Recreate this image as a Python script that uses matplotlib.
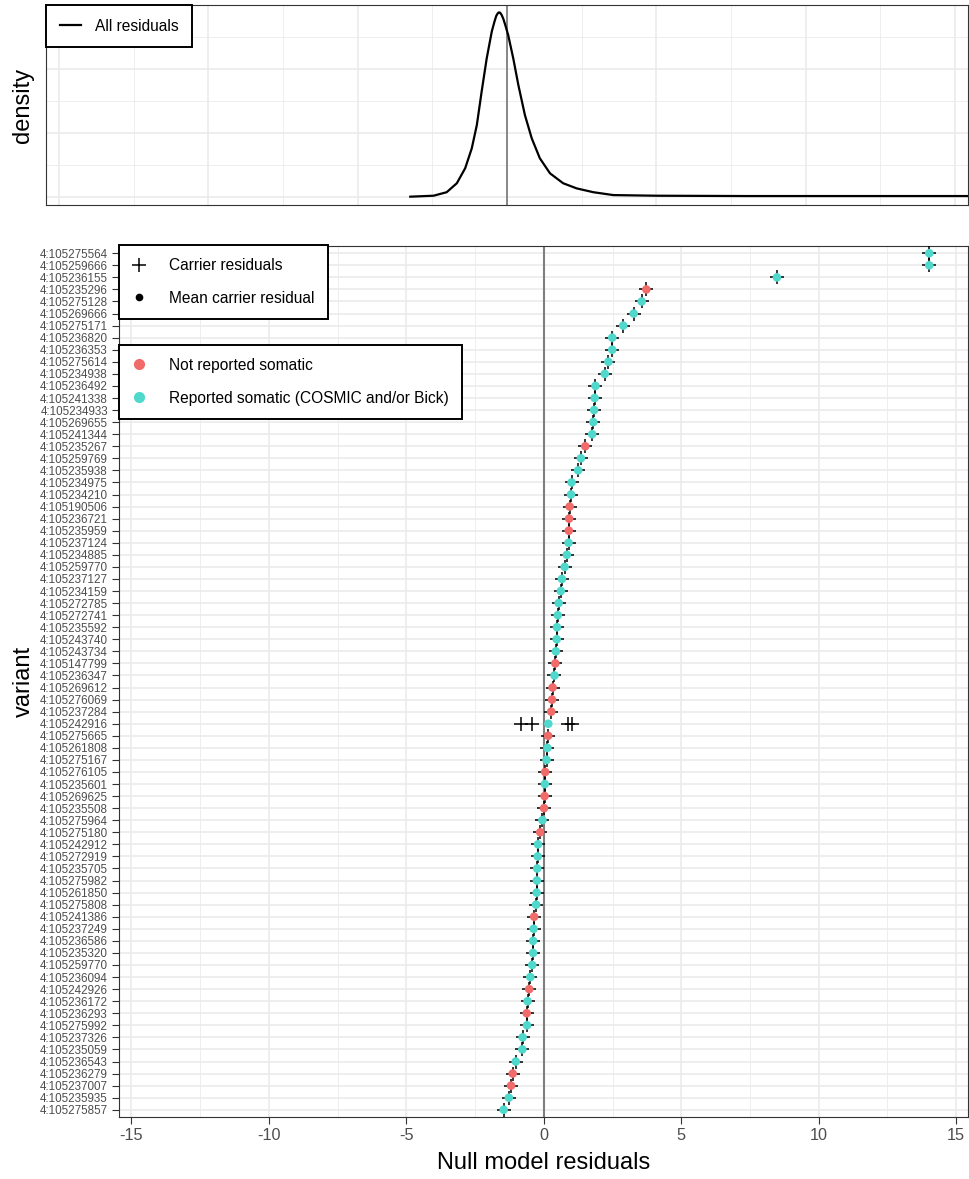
import numpy as np
import matplotlib.pyplot as plt
from matplotlib.lines import Line2D

plt.rcParams['font.family'] = ['Liberation Sans', 'DejaVu Sans']
plt.rcParams['axes.unicode_minus'] = False

# variants, top to bottom
variants = ['4:105275564', '4:105259666', '4:105236155', '4:105235296', '4:105275128', '4:105269666',
            '4:105275171', '4:105236820', '4:105236353', '4:105275614', '4:105234938', '4:105236492',
            '4:105241338', '4:105234933', '4:105269655', '4:105241344', '4:105235267', '4:105259769',
            '4:105235938', '4:105234975', '4:105234210', '4:105190506', '4:105236721', '4:105235959',
            '4:105237124', '4:105234885', '4:105259770', '4:105237127', '4:105234159', '4:105272785',
            '4:105272741', '4:105235592', '4:105243740', '4:105243734', '4:105147799', '4:105236347',
            '4:105269612', '4:105276069', '4:105237284', '4:105242916', '4:105275665', '4:105261808',
            '4:105275167', '4:105276105', '4:105235601', '4:105269625', '4:105235508', '4:105275964',
            '4:105275180', '4:105242912', '4:105272919', '4:105235705', '4:105275982', '4:105261850',
            '4:105275808', '4:105241386', '4:105237249', '4:105236586', '4:105235320', '4:105259770',
            '4:105236094', '4:105242926', '4:105236172', '4:105236293', '4:105275992', '4:105237326',
            '4:105235059', '4:105236543', '4:105236279', '4:105237007', '4:105235935', '4:105275857']

# 1 = reported somatic (COSMIC and/or Bick), 0 = not reported
reported = [1, 1, 1, 0, 1, 1, 1, 1, 1, 1, 1, 1, 1, 1, 1, 1, 0, 1, 1, 1, 1, 0, 0, 0,
            1, 1, 1, 1, 1, 1, 1, 1, 1, 1, 0, 1, 0, 0, 0, 1, 0, 1, 1, 0, 1, 0, 0, 1,
            0, 1, 1, 1, 1, 1, 1, 0, 1, 1, 1, 1, 1, 0, 1, 0, 1, 1, 1, 1, 0, 0, 1, 1]

# residuals of the carriers of each variant
carriers = [[14.02], [14.02], [8.48], [3.73], [3.56], [3.27], [2.89], [2.49], [2.49], [2.35],
            [2.22], [1.88], [1.85], [1.83], [1.80], [1.76], [1.51], [1.35], [1.25], [1.01],
            [0.99], [0.94], [0.92], [0.91], [0.90], [0.84], [0.76], [0.66], [0.62], [0.54],
            [0.51], [0.48], [0.47], [0.44], [0.42], [0.39], [0.32], [0.30], [0.27],
            [-0.83, -0.43, 0.89, 1.03],
            [0.16], [0.13], [0.10], [0.05], [0.04], [0.03], [0.01], [-0.05], [-0.13], [-0.21],
            [-0.22], [-0.24], [-0.25], [-0.26], [-0.28], [-0.35], [-0.37], [-0.39], [-0.39], [-0.42],
            [-0.49], [-0.53], [-0.59], [-0.62], [-0.61], [-0.77], [-0.78], [-1.02], [-1.13], [-1.19],
            [-1.27], [-1.46]]

# density of all residuals
dens_x = [-3.24, -2.46, -2.02, -1.68, -1.40, -1.18, -1.01, -0.85, -0.68, -0.51, -0.42, -0.36,
          -0.31, -0.27, -0.23, -0.18, -0.12, -0.05, 0.04, 0.21, 0.38, 0.60, 0.83, 1.10, 1.44,
          1.88, 2.33, 2.89, 3.56, 5.0, 8.0, 12.0, 15.6]
dens_y = [0.001, 0.004, 0.015, 0.043, 0.090, 0.152, 0.225, 0.329, 0.433, 0.517, 0.548, 0.566,
          0.574, 0.577, 0.576, 0.569, 0.556, 0.535, 0.506, 0.433, 0.350, 0.256, 0.183, 0.121,
          0.074, 0.043, 0.027, 0.015, 0.006, 0.004, 0.003, 0.003, 0.003]

xticks = [-15, -10, -5, 0, 5, 10, 15]
xminor = [-12.5, -7.5, -2.5, 2.5, 7.5, 12.5]
col_not = '#F06B69'
col_rep = '#4FD8CB'
grid_col = '#EBEBEB'

W, H = 969, 1179
fig = plt.figure(figsize=(W / 100, H / 100), dpi=100)

# ---- top: density panel
ax_d = fig.add_axes([46 / W, 1 - 205 / H, 922 / W, 200 / H])
ax_d.plot(dens_x, dens_y, color='black', lw=1.6, label='All residuals', zorder=3)
ax_d.axvline(0, color='#7F7F7F', lw=1.3, zorder=2)
ax_d.set_xlim(-15.44, 15.44)
ax_d.set_ylim(-0.025, 0.6)
ax_d.set_xticks(xticks)
ax_d.set_xticks(xminor, minor=True)
ax_d.set_yticks([0, 0.2, 0.4])
ax_d.set_yticks([0.1, 0.3, 0.5], minor=True)
ax_d.grid(which='major', color=grid_col, lw=1.2)
ax_d.grid(which='minor', color=grid_col, lw=0.6)
ax_d.set_axisbelow(True)
ax_d.tick_params(which='both', length=0, labelleft=False, labelbottom=False)
ax_d.set_ylabel('density', fontsize=17)
ax_d.yaxis.set_label_coords(-0.013, 0.5)
for s in ax_d.spines.values():
    s.set_color('#333333')
    s.set_linewidth(0.8)
lg = ax_d.legend(loc='upper left', bbox_to_anchor=(0, 1), borderaxespad=0, fontsize=11.2,
                 frameon=True, fancybox=False, framealpha=1, borderpad=0.87,
                 handlelength=1.4, handletextpad=0.9)
lg.get_frame().set_edgecolor('black')
lg.get_frame().set_linewidth(1.4)

# ---- bottom: residuals per variant
ax = fig.add_axes([119 / W, 1 - 1117 / H, 849 / W, 871 / H])
n = len(variants)
ypos = np.arange(n)[::-1]

cx = [v for c in carriers for v in c]
cy = [y for c, y in zip(carriers, ypos) for _ in c]
means = np.array([np.mean(c) for c in carriers])
cols = [col_rep if r else col_not for r in reported]

ax.axvline(0, color='#7F7F7F', lw=1.5, zorder=2)
ax.scatter(cx, cy, marker='+', s=105, linewidths=1.1, color='black', zorder=3)
ax.scatter(means, ypos, s=38, c=cols, edgecolors='none', zorder=4)

ax.set_xlim(-15.45, 15.43)
ax.set_ylim(-0.6, n - 1 + 0.6)
ax.set_xticks(xticks)
ax.set_xticklabels([str(t) for t in xticks])
ax.set_xticks(xminor, minor=True)
ax.set_yticks(ypos)
ax.set_yticklabels(variants)
ax.grid(which='major', color=grid_col, lw=1.2)
ax.grid(which='minor', axis='x', color=grid_col, lw=0.6)
ax.set_axisbelow(True)
ax.tick_params(which='major', length=5, width=0.8, color='#333333', labelcolor='#4D4D4D', pad=3)
ax.tick_params(axis='x', labelsize=11.7)
ax.tick_params(axis='y', labelsize=8.4)
ax.tick_params(which='minor', length=0)
for s in ax.spines.values():
    s.set_color('#333333')
    s.set_linewidth(0.8)
ax.set_xlabel('Null model residuals', fontsize=17)
ax.xaxis.set_label_coords(0.5, -0.040)
ax.set_ylabel('variant', fontsize=17)
ax.yaxis.set_label_coords(-0.099, 0.5)

leg_kw = dict(loc='upper left', borderaxespad=0, fontsize=11.2, frameon=True, fancybox=False,
              framealpha=1, borderpad=0.83, handlelength=0.9, handletextpad=1.5, labelspacing=1.15)
h1 = [Line2D([], [], ls='', marker='+', markersize=10, mew=1.1, color='black'),
      Line2D([], [], ls='', marker='o', markersize=4.5, color='black')]
leg1 = ax.legend(h1, ['Carrier residuals', 'Mean carrier residual'], bbox_to_anchor=(0, 1.001), **leg_kw)
leg1.get_frame().set_edgecolor('black')
leg1.get_frame().set_linewidth(1.4)
ax.add_artist(leg1)

h2 = [Line2D([], [], ls='', marker='o', markersize=7, color=col_not),
      Line2D([], [], ls='', marker='o', markersize=7, color=col_rep)]
leg2 = ax.legend(h2, ['Not reported somatic', 'Reported somatic (COSMIC and/or Bick)'],
                 bbox_to_anchor=(0, (1117 - 345) / 871), **leg_kw)
leg2.get_frame().set_edgecolor('black')
leg2.get_frame().set_linewidth(1.4)

fig.savefig('out.png', dpi=100, facecolor='white')
